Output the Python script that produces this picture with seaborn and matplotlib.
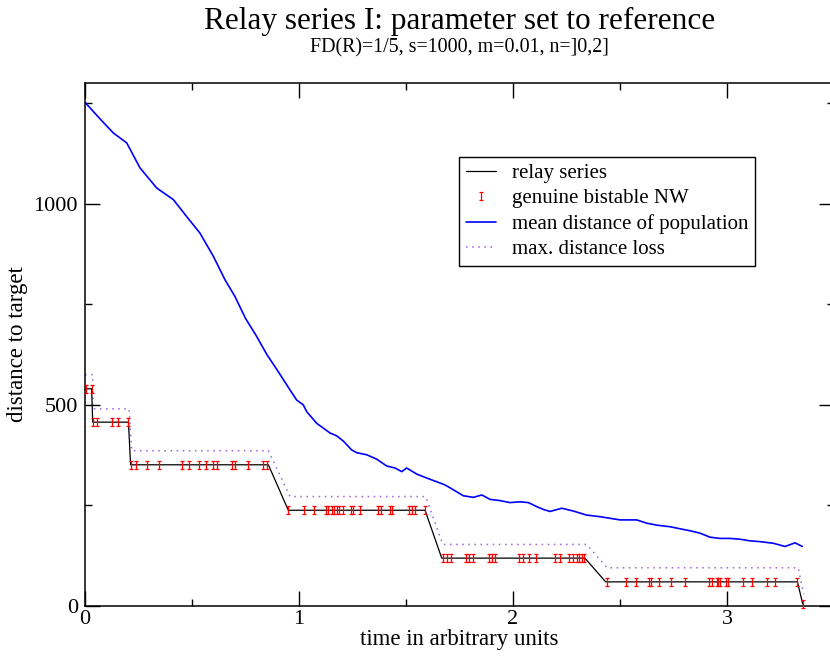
import matplotlib
matplotlib.use("Agg")
import matplotlib.pyplot as plt
from matplotlib.path import Path
from matplotlib.lines import Line2D
import seaborn as sns
import pandas as pd

# relay series: best distance reached, stepping down over time
relay_t = [0.0, 0.031, 0.036, 0.203, 0.213, 0.857, 0.950, 1.589, 1.667, 2.336, 2.433, 3.329, 3.354]
relay_d = [540, 540, 457, 457, 351, 351, 238, 238, 119, 119, 60, 60, 5]

# maximal distance loss allowed above each relay level
loss_t = [0.0, 0.036, 0.037, 0.206, 0.218, 0.857, 0.958, 1.592, 1.672, 2.344, 2.440, 3.333, 3.358]
loss_d = [575, 575, 490, 490, 386, 386, 272, 272, 153, 153, 95, 95, 30]

# genuine bistable networks found along the relay
nw_t = [0.004, 0.031,
        0.036, 0.055, 0.125, 0.153, 0.203,
        0.213, 0.238, 0.288, 0.347, 0.452, 0.486, 0.534, 0.564, 0.597, 0.615,
        0.687, 0.701, 0.760, 0.830, 0.849,
        0.950, 1.025, 1.070, 1.125, 1.137, 1.153, 1.165, 1.176, 1.187, 1.204,
        1.243, 1.254, 1.285, 1.368, 1.383, 1.427, 1.436, 1.516, 1.526, 1.542, 1.589,
        1.671, 1.690, 1.709, 1.780, 1.796, 1.812, 1.889, 1.900, 1.916, 2.029,
        2.048, 2.076, 2.107, 2.196, 2.220, 2.263, 2.279, 2.301, 2.310, 2.321, 2.332,
        2.438, 2.528, 2.573, 2.637, 2.645, 2.684, 2.738, 2.804, 2.916, 2.931,
        2.952, 2.959, 2.967, 2.995, 3.005, 3.076, 3.118, 3.185, 3.224, 3.329,
        3.354]
nw_d = [540, 540,
        457, 457, 457, 457, 457,
        351, 351, 351, 351, 351, 351, 351, 351, 351, 351,
        351, 351, 351, 351, 351,
        238, 238, 238, 238, 238, 238, 238, 238, 238, 238,
        238, 238, 238, 238, 238, 238, 238, 238, 238, 238, 238,
        119, 119, 119, 119, 119, 119, 119, 119, 119, 119,
        119, 119, 119, 119, 119, 119, 119, 119, 119, 119, 119,
        60, 60, 60, 60, 60, 60, 60, 60, 60, 60,
        60, 60, 60, 60, 60, 60, 60, 60, 60, 60,
        5]

# mean distance of the whole population
mean_t = [0.0, 0.07, 0.132, 0.195, 0.257, 0.335, 0.413, 0.475, 0.537, 0.600,
          0.654, 0.70, 0.75, 0.80, 0.85, 0.90, 0.958, 0.989, 1.020, 1.036,
          1.083, 1.114, 1.145, 1.176, 1.207, 1.246, 1.270, 1.316, 1.363, 1.410,
          1.449, 1.480, 1.503, 1.550, 1.597, 1.643, 1.682, 1.721, 1.768, 1.815,
          1.854, 1.893, 1.939, 1.986, 2.033, 2.072, 2.111, 2.142, 2.173, 2.228,
          2.282, 2.344, 2.407, 2.453, 2.500, 2.578, 2.624, 2.671, 2.734, 2.780,
          2.827, 2.874, 2.921, 2.967, 3.014, 3.061, 3.107, 3.154, 3.216, 3.271,
          3.318, 3.352]
mean_d = [1252, 1211, 1176, 1151, 1089, 1039, 1010, 968, 927, 869,
          811, 770, 715, 672, 625, 585, 537, 512, 500, 483,
          454, 442, 430, 423, 410, 388, 381, 376, 365, 348,
          343, 334, 343, 328, 318, 309, 301, 289, 274, 270,
          276, 265, 262, 257, 259, 257, 247, 240, 235, 243,
          236, 226, 222, 218, 214, 214, 206, 201, 197, 192,
          187, 181, 171, 168, 168, 166, 162, 160, 156, 148,
          157, 148]

title = "Relay series I: parameter set to reference"
subtitle = "FD(R)=1/5, s=1000, m=0.01, n=]0,2]"
labels = ["relay series", "genuine bistable NW",
          "mean distance of population", "max. distance loss"]

sns.set_style("ticks")
plt.rcParams["font.family"] = ["Liberation Serif", "DejaVu Serif"]
for key in ("text.color", "axes.labelcolor", "xtick.color", "ytick.color",
            "axes.edgecolor"):
    plt.rcParams[key] = "black"

BLUE = "#0000ff"
RED = "#ff0000"
VIOLET = "#9966dd"

fig = plt.figure(figsize=(8.3, 6.57), dpi=100)
W, H = 830, 657
ax = fig.add_axes([85 / W, 51 / H, 749 / W, 523 / H])

relay = pd.DataFrame({"t": relay_t, "d": relay_d})
loss = pd.DataFrame({"t": loss_t, "d": loss_d})
mean = pd.DataFrame({"t": mean_t, "d": mean_d})
nw = pd.DataFrame({"t": nw_t, "d": nw_d})

sns.lineplot(data=mean, x="t", y="d", ax=ax, color=BLUE, lw=1.2,
             estimator=None, sort=False, zorder=2)
sns.lineplot(data=loss, x="t", y="d", ax=ax, color=VIOLET, lw=1.1,
             linestyle=(0, (1, 3)), estimator=None, sort=False, zorder=2)
sns.lineplot(data=relay, x="t", y="d", ax=ax, color="black", lw=0.9,
             estimator=None, sort=False, zorder=3)

# "I"-shaped marker: vertical stroke with short serifs
i_marker = Path([(-0.5, 1), (0.5, 1), (0, 1), (0, -1), (-0.5, -1), (0.5, -1)],
                [Path.MOVETO, Path.LINETO, Path.MOVETO, Path.LINETO,
                 Path.MOVETO, Path.LINETO])
sns.scatterplot(data=nw, x="t", y="d", ax=ax, marker=i_marker, s=38,
                color=RED, edgecolor=RED, linewidth=0.9, zorder=4,
                clip_on=False)

ax.set_xlim(0, 3.5)
ax.set_ylim(0, 1300)
ax.set_xticks([0, 1, 2, 3])
ax.set_xticks([0.5, 1.5, 2.5, 3.5], minor=True)
ax.set_yticks([0, 500, 1000])
ax.set_yticks([250, 750, 1250], minor=True)
ax.tick_params(which="both", direction="in", top=True, right=True,
               width=1.0, colors="black", labelsize=16)
ax.tick_params(which="major", length=10.8)
ax.tick_params(which="minor", length=5)
ax.tick_params(axis="x", pad=3)
ax.tick_params(axis="y", pad=5)
for sp in ax.spines.values():
    sp.set_linewidth(1.1)
    sp.set_color("black")

ax.set_xlabel("time in arbitrary units", fontsize=16.5, labelpad=0)
ax.set_ylabel("distance to target", fontsize=16.5, labelpad=4)

fig.text(459.5 / W, 1 - 21 / H, title, ha="center", va="center", fontsize=22.5)
fig.text(459.5 / W, 1 - 48 / H, subtitle, ha="center", va="center", fontsize=14.4)

handles = [
    Line2D([], [], color="black", lw=0.9),
    Line2D([], [], color=RED, lw=0, marker=i_marker, markersize=6.2,
           markeredgewidth=0.9, markeredgecolor=RED),
    Line2D([], [], color=BLUE, lw=1.2),
    Line2D([], [], color=VIOLET, lw=1.1, linestyle=(0, (1, 3))),
]
leg = ax.legend(handles, labels, loc="upper left",
                bbox_to_anchor=(459 / W, 1 - 157 / H),
                bbox_transform=fig.transFigure,
                fontsize=15, frameon=True, fancybox=False, shadow=False,
                framealpha=1, edgecolor="black", borderpad=0.32,
                labelspacing=0.27, handlelength=1.45, handletextpad=0.75,
                borderaxespad=0)
leg.get_frame().set_linewidth(1.0)

fig.savefig("out.png", dpi=100)
